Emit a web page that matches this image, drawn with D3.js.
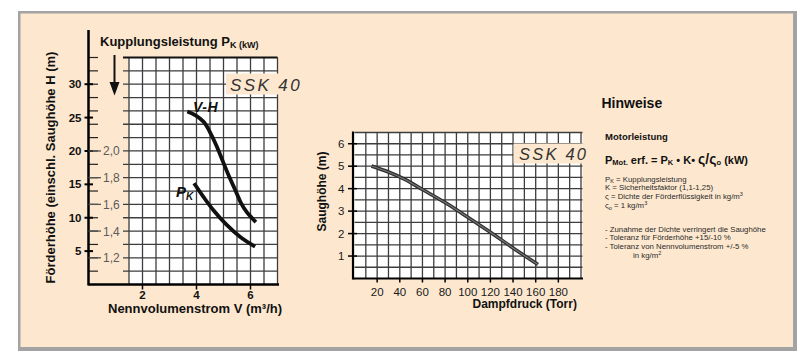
<!DOCTYPE html>
<html><head><meta charset="utf-8">
<script src="https://cdn.jsdelivr.net/npm/d3@7"></script>
<style>
body{margin:0;background:#fff}
svg{display:block}
text{font-family:"Liberation Sans",Arial,sans-serif}
</style>
</head><body>
<svg id="c" width="807" height="359"></svg>
<script>
// ---------- data ----------
const flowTicks = [2, 4, 6];
const headTicks = [5, 10, 15, 20, 25, 30];
const powerTicks = [1.2, 1.4, 1.6, 1.8, 2.0];
// V-H curve: flow (m3/h), head (m)
const vhFlow = [3.66, 3.98, 4.28, 4.54, 4.76, 4.98, 5.2, 5.43, 5.65, 5.87, 6.06, 6.2];
const vhHead = [25.9, 25.3, 24.3, 22.5, 20.6, 18.4, 16.25, 14.2, 12.2, 10.8, 9.93, 9.35];
// Pk curve: flow (m3/h), coupling power (kW)
const pkFlow = [3.91, 4.25, 4.62, 5.12, 5.61, 6.17];
const pkPower = [1.758, 1.658, 1.558, 1.446, 1.358, 1.283];
// right chart
const pressureTicks = [20, 40, 60, 80, 100, 120, 140, 160, 180];
const suctionTicks = [1, 2, 3, 4, 5, 6];
const vapPressure = [15, 30, 45, 60, 80, 100, 120, 140, 162];
const suctionHead = [5.01, 4.74, 4.40, 3.96, 3.38, 2.73, 2.06, 1.36, 0.62];
const modelName = "SSK 40";
const notesDefs = [
  [{t:"P"},{t:"K",sub:1},{t:" = Kupplungsleistung"}],
  [{t:"K = Sicherheitsfaktor (1,1-1,25)"}],
  [{t:"ς = Dichte der Förderflüssigkeit in kg/m"},{t:"3",sup:1}],
  [{t:"ς"},{t:"o",sub:1},{t:" = 1 kg/m"},{t:"3",sup:1}]
];
const notesList = [
  "-  Zunahme der Dichte verringert die Saughöhe",
  "-  Toleranz für Förderhöhe +15/-10 %",
  "-  Toleranz von Nennvolumenstrom +/-5 %"
];

// ---------- frame ----------
const svg = d3.select("#c");
svg.append("rect").attr("x",18).attr("y",11).attr("width",779).attr("height",340).attr("fill","#a3a3a3");
svg.append("rect").attr("x",20.5).attr("y",13.5).attr("width",772.5).attr("height",333.5).attr("fill","#fde8cf");

const gridCol = "#3d3d3d";

// ---------- left chart ----------
const xL = d3.scaleLinear().domain([0, 7]).range([88.5, 277.5]);
const yH = d3.scaleLinear().domain([0, 34]).range([284.5, 57.5]);
const yP = d3.scaleLinear().domain([1.0, 2.7]).range([284.5, 57.5]);

const gL = svg.append("g");
gL.append("rect").attr("x",xL(1.5)).attr("y",yP(2.7)).attr("width",xL(7)-xL(1.5)).attr("height",yP(1.0)-yP(2.7)).attr("fill","#fff");
d3.range(3, 15).map(i => i/2).forEach(v => {
  gL.append("line").attr("x1",xL(v)).attr("x2",xL(v)).attr("y1",yP(2.7)).attr("y2",yP(1.0))
    .attr("stroke",gridCol).attr("stroke-width",1.3);
});
d3.range(11, 28).map(i => i/10).forEach(p => {
  gL.append("line").attr("x1",123).attr("x2",xL(7)).attr("y1",yP(p)).attr("y2",yP(p))
    .attr("stroke", p > 2.65 ? "#111" : gridCol).attr("stroke-width", p > 2.65 ? 2 : 1.3);
  gL.append("line").attr("x1",xL(0)).attr("x2",98).attr("y1",yP(p)).attr("y2",yP(p))
    .attr("stroke","#222").attr("stroke-width",1.2);
});
gL.append("rect").attr("x",226).attr("y",73.5).attr("width",80).attr("height",21).attr("fill","#fde8cf");
gL.append("text").attr("x",230).attr("y",90.5).attr("font-family","DejaVu Sans").attr("font-style","italic")
  .attr("font-size",17).attr("letter-spacing",2.4).attr("fill","#333").text(modelName);

gL.append("line").attr("x1",xL(0)).attr("x2",xL(0)).attr("y1",30).attr("y2",yH(0)+1).attr("stroke","#000").attr("stroke-width",2.5);
gL.append("line").attr("x1",xL(0)).attr("x2",279).attr("y1",yH(0)).attr("y2",yH(0)).attr("stroke","#000").attr("stroke-width",2.5);

headTicks.forEach(h => {
  gL.append("line").attr("x1",84.5).attr("x2",93).attr("y1",yH(h)).attr("y2",yH(h)).attr("stroke","#000").attr("stroke-width",2);
  gL.append("text").attr("x",81.5).attr("y",yH(h)+4).attr("text-anchor","end").attr("font-weight","bold")
    .attr("font-size",11.5).attr("fill","#111").text(h);
});
powerTicks.forEach(p => {
  gL.append("line").attr("x1",xL(0)).attr("x2",101).attr("y1",yP(p)).attr("y2",yP(p)).attr("stroke","#555").attr("stroke-width",1.3);
  gL.append("text").attr("x",103).attr("y",yP(p)+4.5).attr("font-size",12).attr("fill","#5a5a5a")
    .text(d3.format(".1f")(p).replace(".", ","));
});
flowTicks.forEach(v => {
  gL.append("line").attr("x1",xL(v)).attr("x2",xL(v)).attr("y1",yH(0)).attr("y2",yH(0)+5).attr("stroke","#000").attr("stroke-width",1.5);
  gL.append("text").attr("x",xL(v)).attr("y",298.5).attr("text-anchor","middle").attr("font-weight","bold")
    .attr("font-size",11.5).attr("fill","#111").text(v);
});

const lineL = d3.line().curve(d3.curveCatmullRom.alpha(0.5));
gL.append("path").attr("d", lineL(vhFlow.map((v,i)=>[xL(v), yH(vhHead[i])])))
  .attr("fill","none").attr("stroke","#111").attr("stroke-width",3.8).attr("stroke-linecap","butt");
gL.append("path").attr("d", lineL(pkFlow.map((v,i)=>[xL(v), yP(pkPower[i])])))
  .attr("fill","none").attr("stroke","#111").attr("stroke-width",3.8).attr("stroke-linecap","butt");

gL.append("text").attr("x",193).attr("y",112).attr("font-size",14).attr("font-weight","bold").attr("font-style","italic")
  .attr("letter-spacing",0.5).attr("fill","#111").text("V-H");
const pkl = gL.append("text").attr("x",176).attr("y",196.5).attr("font-weight","bold").attr("font-style","italic").attr("fill","#111");
pkl.append("tspan").attr("font-size",15).text("P");
pkl.append("tspan").attr("font-size",10).attr("dy",3).text("K");

gL.append("line").attr("x1",114.5).attr("x2",114.5).attr("y1",55).attr("y2",86).attr("stroke","#111").attr("stroke-width",2);
gL.append("path").attr("d","M109.5,82 L119.5,82 L114.5,95.5 Z").attr("fill","#111");

const tK = gL.append("text").attr("x",100).attr("y",45.5).attr("font-weight","bold").attr("fill","#111");
tK.append("tspan").attr("font-size",13).text("Kupplungsleistung P");
tK.append("tspan").attr("font-size",9).attr("dy",2).text("K (kW)");
gL.append("text").attr("transform","translate(55,167.5) rotate(-90)").attr("text-anchor","middle")
  .attr("font-weight","bold").attr("font-size",13).attr("fill","#111").text("Förderhöhe (einschl. Saughöhe H (m)");
gL.append("text").attr("x",108).attr("y",313).attr("font-weight","bold").attr("font-size",13).attr("fill","#111")
  .text("Nennvolumenstrom V (m³/h)");

// ---------- right chart ----------
const xR = d3.scaleLinear().domain([0, 200]).range([354.5, 581]);
const yR = d3.scaleLinear().domain([0, 6.5]).range([278.5, 132.5]);
const gR = svg.append("g");
gR.append("rect").attr("x",xR(0)).attr("y",yR(6.5)).attr("width",xR(200)+1.5-xR(0)).attr("height",yR(0)-yR(6.5)).attr("fill","#fff");
d3.range(1, 21).map(i => i*10).forEach(t => {
  gR.append("line").attr("x1",xR(t)).attr("x2",xR(t)).attr("y1",yR(6.5)).attr("y2",yR(0))
    .attr("stroke",gridCol).attr("stroke-width",1.3);
});
d3.range(1, 14).map(i => i/2).forEach(h => {
  gR.append("line").attr("x1",xR(0)).attr("x2",xR(200)+1.5).attr("y1",yR(h)).attr("y2",yR(h))
    .attr("stroke",gridCol).attr("stroke-width",1.3);
});
gR.append("rect").attr("x",513.5).attr("y",143.5).attr("width",75).attr("height",20).attr("fill","#fde8cf");
gR.append("text").attr("x",519).attr("y",159.5).attr("font-family","DejaVu Sans").attr("font-style","italic")
  .attr("font-size",16.5).attr("letter-spacing",2.2).attr("fill","#333").text(modelName);
gR.append("line").attr("x1",353).attr("x2",353).attr("y1",131.5).attr("y2",yR(0)+1).attr("stroke","#000").attr("stroke-width",2.2);
gR.append("line").attr("x1",353).attr("x2",583).attr("y1",yR(0)).attr("y2",yR(0)).attr("stroke","#000").attr("stroke-width",2.2);
suctionTicks.forEach(h => {
  gR.append("line").attr("x1",348).attr("x2",357).attr("y1",yR(h)).attr("y2",yR(h)).attr("stroke","#000").attr("stroke-width",1.5);
  gR.append("text").attr("x",344.5).attr("y",yR(h)+4).attr("text-anchor","end").attr("font-size",11.5)
    .attr("fill","#1a1a1a").text(h);
});
pressureTicks.forEach(t => {
  gR.append("line").attr("x1",xR(t)).attr("x2",xR(t)).attr("y1",yR(0)).attr("y2",yR(0)+4).attr("stroke","#000").attr("stroke-width",1.5);
  gR.append("text").attr("x",xR(t)).attr("y",296).attr("text-anchor","middle").attr("font-size",11.5)
    .attr("fill","#1a1a1a").text(t);
});
const lineR = d3.line().curve(d3.curveCatmullRom.alpha(0.5));
const rPts = vapPressure.map((t,i)=>[xR(t), yR(suctionHead[i])]);
gR.append("path").attr("d", lineR(rPts)).attr("fill","none").attr("stroke","#2e2e2e").attr("stroke-width",3.6);
gR.append("path").attr("d", lineR(rPts)).attr("fill","none").attr("stroke","#777").attr("stroke-width",1.2);
gR.append("text").attr("transform","translate(326,191.5) rotate(-90)").attr("text-anchor","middle")
  .attr("font-weight","bold").attr("font-size",12).attr("fill","#111").text("Saughöhe (m)");
gR.append("text").attr("x",472.5).attr("y",308).attr("font-weight","bold").attr("font-size",12).attr("fill","#111")
  .text("Dampfdruck (Torr)");

// ---------- notes ----------
const gN = svg.append("g");
gN.append("text").attr("x",601.5).attr("y",108).attr("font-weight","bold").attr("font-size",14).attr("fill","#111").text("Hinweise");
gN.append("text").attr("x",605).attr("y",140).attr("font-weight","bold").attr("font-size",9.5).attr("fill","#111").text("Motorleistung");
const f = gN.append("text").attr("x",605).attr("y",163.5).attr("font-weight","bold").attr("font-size",11).attr("fill","#111");
f.append("tspan").text("P");
f.append("tspan").attr("font-size",7.5).attr("dy",1.5).text("Mot.");
f.append("tspan").attr("dy",-1.5).text(" erf. = P");
f.append("tspan").attr("font-size",7.5).attr("dy",1.5).text("K");
f.append("tspan").attr("dy",-1.5).text(" • K• ");
f.append("tspan").attr("font-size",14).text("ς/ς");
f.append("tspan").attr("font-size",7.5).attr("dy",1.5).text("o");
f.append("tspan").attr("dy",-1.5).text("  (kW)");

notesDefs.forEach((parts, i) => {
  const t = gN.append("text").attr("x",605).attr("y",181.5 + i*8.9).attr("font-size",7.8).attr("fill","#2a2a2a");
  let off = 0;
  parts.forEach(p => {
    const target = p.sub ? 1.5 : (p.sup ? -3 : 0);
    const s = t.append("tspan").attr("dy", target - off).text(p.t);
    if (p.sub || p.sup) s.attr("font-size",5.5);
    off = target;
  });
});
notesList.forEach((s, i) => {
  gN.append("text").attr("x",605).attr("y",231.5 + i*8.8).attr("font-size",7.8).attr("fill","#2a2a2a").text(s);
});
const last = gN.append("text").attr("x",633).attr("y",257.8).attr("font-size",7.8).attr("fill","#2a2a2a");
last.append("tspan").text("in  kg/m");
last.append("tspan").attr("font-size",5.5).attr("dy",-3).text("2");
</script>
</body></html>
